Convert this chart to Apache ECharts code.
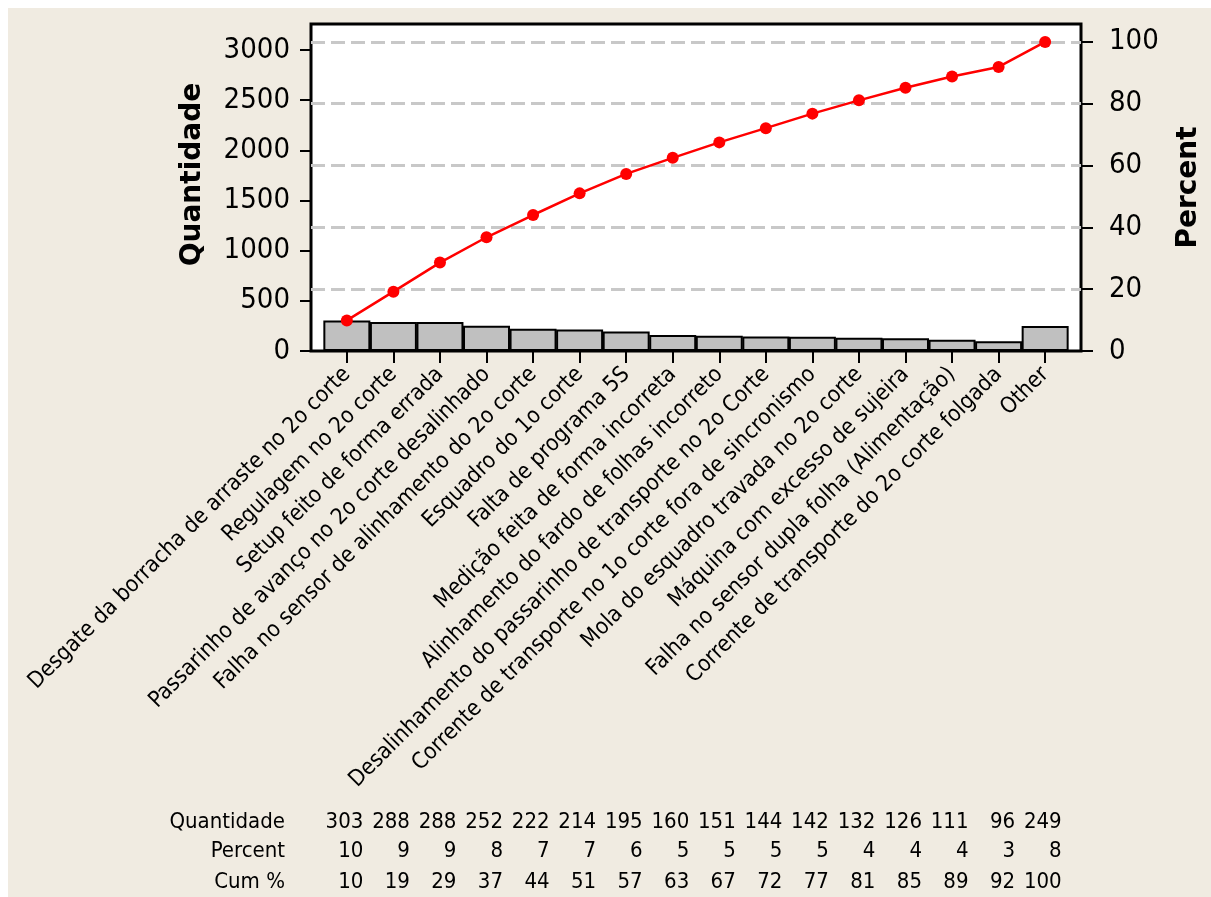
<!DOCTYPE html>
<html>
<head>
<meta charset="utf-8">
<script src="https://cdn.jsdelivr.net/npm/echarts@6/dist/echarts.min.js"></script>
<style>
html,body{margin:0;padding:0;background:#ffffff;width:1211px;height:897px;overflow:hidden;}
#chart{position:absolute;left:8px;top:8px;width:1203px;height:889px;}
</style>
</head>
<body>
<div id="chart"></div>
<script>
const categories = [
  "Desgate da borracha de arraste no 2o corte",
  "Regulagem no 2o corte",
  "Setup feito de forma errada",
  "Passarinho de avanço no 2o corte desalinhado",
  "Falha no sensor de alinhamento do 2o corte",
  "Esquadro do 1o corte",
  "Falta de programa 5S",
  "Medição feita de forma incorreta",
  "Alinhamento do fardo de folhas incorreto",
  "Desalinhamento do passarinho de transporte no 2o Corte",
  "Corrente de transporte no 1o corte fora de sincronismo",
  "Mola do esquadro travada no 2o corte",
  "Máquina com excesso de sujeira",
  "Falha no sensor dupla folha (Alimentação)",
  "Corrente de transporte do 2o corte folgada",
  "Other"
];
const quantidade = [303, 288, 288, 252, 222, 214, 195, 160, 151, 144, 142, 132, 126, 111, 96, 249];
const percentRow = [10, 9, 9, 8, 7, 7, 6, 5, 5, 5, 5, 4, 4, 4, 3, 8];
const cumRow = [10, 19, 29, 37, 44, 51, 57, 63, 67, 72, 77, 81, 85, 89, 92, 100];
const cumLine = [9.9, 19.2, 28.6, 36.8, 44.0, 51.0, 57.3, 62.5, 67.5, 72.1, 76.8, 81.1, 85.2, 88.8, 91.9, 100];
const leftTicks = [0, 500, 1000, 1500, 2000, 2500, 3000];
const rightTicks = [0, 20, 40, 60, 80, 100];
const catPositions = [0, 1, 2, 3, 4, 5, 6, 7, 8, 9, 10, 11, 12, 13, 14, 15];

const FONT = "'DejaVu Sans Condensed', 'Liberation Sans', sans-serif";
const XMIN = -0.77, XMAX = 15.77;

function tableAxis(name, values, offset) {
  return {
    type: 'value', gridIndex: 0, position: 'bottom', offset: offset,
    min: XMIN, max: XMAX,
    name: name, nameLocation: 'start', nameGap: 26,
    nameTextStyle: { fontFamily: FONT, fontSize: 22, color: '#000', verticalAlign: 'middle' },
    axisLine: { show: false, onZero: false }, axisTick: { show: false }, splitLine: { show: false },
    axisLabel: {
      customValues: catPositions, margin: 0, verticalAlign: 'middle', align: 'center',
      formatter: function (v) { return '{v|' + values[Math.round(v)] + '}'; },
      rich: { v: { width: 33, align: 'right', fontFamily: FONT, fontSize: 22, color: '#000' } }
    }
  };
}

const chart = echarts.init(document.getElementById('chart'));
chart.setOption({
  backgroundColor: '#F0EBE1',
  animation: false,
  grid: {
    left: 303, top: 16, right: 127, bottom: 546,
    show: true, backgroundColor: '#ffffff', borderColor: '#000000', borderWidth: 3
  },
  xAxis: [
    {
      type: 'value', min: XMIN, max: XMAX, position: 'bottom',
      axisLine: { show: false, onZero: false },
      splitLine: { show: false },
      axisTick: { customValues: catPositions, length: 12, lineStyle: { color: '#000', width: 2 } },
      axisLabel: {
        customValues: catPositions, rotate: 45, margin: 20,
        fontFamily: FONT, fontSize: 22.5, color: '#000',
        formatter: function (v) { return categories[Math.round(v)]; }
      }
    },
    tableAxis('Quantidade', quantidade, 471),
    tableAxis('Percent', percentRow, 500.5),
    tableAxis('Cum %', cumRow, 531.5)
  ],
  yAxis: [
    {
      type: 'value', min: 0, max: 3259, position: 'left',
      name: 'Quantidade', nameLocation: 'middle', nameRotate: 90, nameGap: 104,
      nameTextStyle: { fontFamily: "'DejaVu Sans', sans-serif", fontWeight: 'bold', fontSize: 28, color: '#000', padding: [0, 0, 0, 26] },
      axisLine: { show: false, onZero: false },
      splitLine: { show: false },
      axisTick: { customValues: leftTicks, length: 11, lineStyle: { color: '#000', width: 2 } },
      axisLabel: {
        customValues: leftTicks, margin: 21, fontFamily: FONT, fontSize: 29, color: '#000',
        formatter: function (v) { return String(v); }
      }
    },
    {
      type: 'value', min: 0, max: 105.8, position: 'right',
      name: 'Percent', nameLocation: 'middle', nameRotate: 90, nameGap: 94,
      nameTextStyle: { fontFamily: "'DejaVu Sans', sans-serif", fontWeight: 'bold', fontSize: 28, color: '#000' },
      axisLine: { show: false, onZero: false },
      axisTick: { customValues: rightTicks, length: 12, lineStyle: { color: '#000', width: 2 } },
      axisLabel: {
        customValues: rightTicks, margin: 28, fontFamily: FONT, fontSize: 29, color: '#000',
        formatter: function (v) { return String(v); }
      },
      splitLine: {
        show: true, showMinLine: false, showMaxLine: true,
        lineStyle: { color: '#C8C8C8', width: 3, type: [14, 6] }
      }
    }
  ],
  series: [
    {
      type: 'bar', xAxisIndex: 0, yAxisIndex: 0,
      data: quantidade.map(function (q, i) { return [i, q]; }),
      barWidth: 47,
      itemStyle: { color: '#C0C0C0', borderColor: '#000000', borderWidth: 2 },
      z: 2
    },
    {
      type: 'line', xAxisIndex: 0, yAxisIndex: 1,
      data: cumLine.map(function (c, i) { return [i, c]; }),
      symbol: 'circle', symbolSize: 12,
      lineStyle: { color: '#FF0000', width: 2.5 },
      itemStyle: { color: '#FF0000' },
      z: 3
    }
  ]
});
</script>
</body>
</html>
